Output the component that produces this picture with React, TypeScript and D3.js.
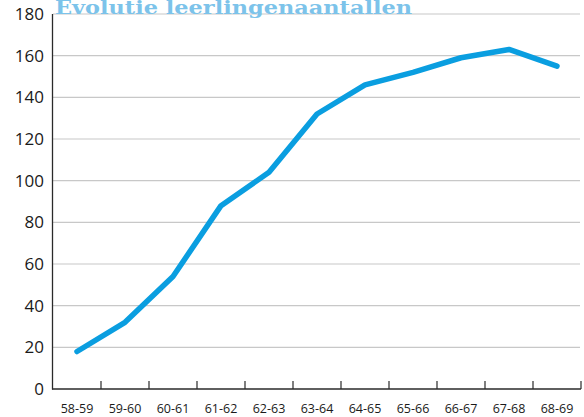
import React, { useEffect, useRef } from "react";
import * as d3 from "d3";

const categories = ["58-59", "59-60", "60-61", "61-62", "62-63", "63-64", "64-65", "65-66", "66-67", "67-68", "68-69"];
const values = [18, 32, 54, 88, 104, 132, 146, 152, 159, 163, 155];
const yTicks = [0, 20, 40, 60, 80, 100, 120, 140, 160, 180];
const title = "Evolutie leerlingenaantallen";

const W = 584;
const H = 417;

export default function App() {
  const ref = useRef<SVGSVGElement>(null);
  useEffect(() => {
    const svg = d3.select(ref.current);
    svg.selectAll("*").remove();
    const left = 53, right = 581, top = 14, bottom = 389;
    const x = d3.scaleBand<string>().domain(categories).range([left, right]);
    const y = d3.scaleLinear().domain([0, 180]).range([bottom, top]);

    // gridlines
    svg.append("g").selectAll("line").data(yTicks.filter(t => t > 0)).join("line")
      .attr("x1", left).attr("x2", 580)
      .attr("y1", d => y(d)).attr("y2", d => y(d))
      .attr("stroke", "#c8c8c8").attr("stroke-width", 1.2);

    // y labels
    svg.append("g").selectAll("text").data(yTicks).join("text")
      .attr("x", 44).attr("y", d => y(d) + 6)
      .attr("text-anchor", "end")
      .attr("font-family", "'Open Sans', sans-serif")
      .attr("font-size", 17)
      .attr("fill", "#1a1a1a")
      .text(d => d);

    // axes
    svg.append("line").attr("x1", left - 0.5).attr("x2", left - 0.5).attr("y1", top).attr("y2", bottom + 0.5)
      .attr("stroke", "#2a2a2a").attr("stroke-width", 1.3);
    svg.append("line").attr("x1", left - 1).attr("x2", right).attr("y1", bottom).attr("y2", bottom)
      .attr("stroke", "#2a2a2a").attr("stroke-width", 1.3);
    svg.append("g").selectAll("line").data(categories.slice(1).concat(["end"])).join("line")
      .attr("x1", (d, i) => left + x.step() * (i + 1)).attr("x2", (d, i) => left + x.step() * (i + 1))
      .attr("y1", bottom - 8).attr("y2", bottom)
      .attr("stroke", "#2a2a2a").attr("stroke-width", 1.2);

    // x labels
    svg.append("g").selectAll("text").data(categories).join("text")
      .attr("x", d => (x(d) as number) + x.bandwidth() / 2)
      .attr("y", 413)
      .attr("text-anchor", "middle")
      .attr("font-family", "'Open Sans', sans-serif")
      .attr("font-size", 12.5)
      .attr("fill", "#1a1a1a")
      .text(d => d);

    // line
    const line = d3.line<number>()
      .x((d, i) => (x(categories[i]) as number) + x.bandwidth() / 2)
      .y(d => y(d));
    svg.append("path").datum(values).attr("d", line)
      .attr("fill", "none").attr("stroke", "#0a9ee0").attr("stroke-width", 5.5)
      .attr("stroke-linecap", "round").attr("stroke-linejoin", "round");

    // title
    svg.append("text").attr("x", 55).attr("y", 14)
      .attr("font-family", "'DejaVu Serif', serif").attr("font-weight", "bold")
      .attr("font-size", 19).attr("fill", "#7cc3ea")
      .attr("textLength", 357).attr("lengthAdjust", "spacingAndGlyphs")
      .text(title);
  }, []);
  return (
    <svg ref={ref} width={W} height={H} style={{ position: "absolute", left: 0, top: 0, background: "#fff" }} />
  );
}
